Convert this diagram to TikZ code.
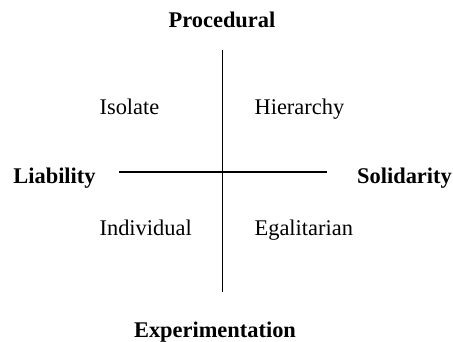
\documentclass[tikz,border=0pt]{standalone}
\usepackage{fontspec}
\setmainfont{Liberation Serif}
\usepackage{tikz}
\tikzset{  axislabel/.style={font=\fontsize{22.5}{27}\selectfont\bfseries,anchor=base,inner sep=0pt},
  celllabel/.style={font=\fontsize{22.5}{27}\selectfont,anchor=base west,inner sep=0pt} }

\begin{document}
\begin{tikzpicture}[x=1bp,y=-1bp,line width=1.2bp]
    \useasboundingbox (0,0) rectangle (453,341);
    \node[axislabel] (proc) at (222,27) {Procedural};
    \node[axislabel] (expe) at (215,337) {Experimentation};
    \node[axislabel] (liab) at (54.5,183) {Liability};
    \node[axislabel] (soli) at (404.5,183) {Solidarity};
    \node[celllabel] (iso) at (99,114) {Isolate};
    \node[celllabel] (hie) at (254,114) {Hierarchy};
    \node[celllabel] (ind) at (99,235) {Individual};
    \node[celllabel] (ega) at (254,235) {Egalitarian};
    \coordinate (top) at (222.5,50);
    \coordinate (bot) at (222.5,292);
    \coordinate (left) at (119,172);
    \coordinate (right) at (327,172);
    \draw (top) -- (bot);
    \draw (left) -- (right);
    \end{tikzpicture}
\end{document}
